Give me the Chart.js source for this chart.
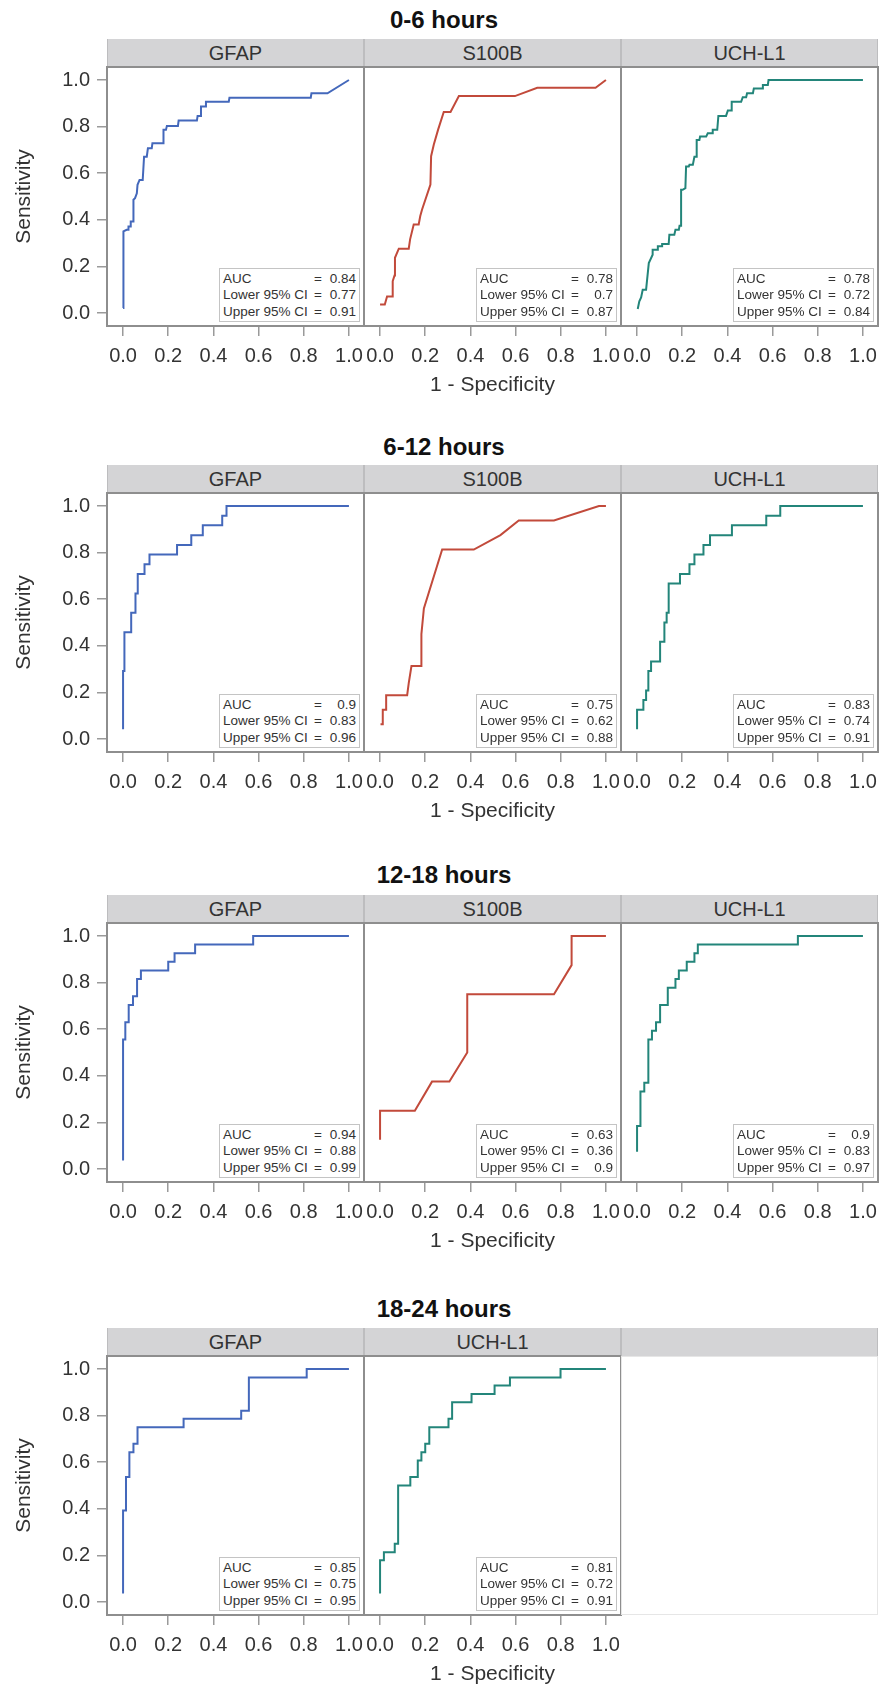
<!DOCTYPE html>
<html><head><meta charset="utf-8">
<script src="https://cdn.jsdelivr.net/npm/chart.js@4.4.0/dist/chart.umd.min.js"></script>
<style>
html,body{margin:0;padding:0;background:#fff;}
body{width:880px;height:1689px;position:relative;overflow:hidden;font-family:"Liberation Sans",Arial,sans-serif;}
.gtitle{position:absolute;left:0;width:888px;text-align:center;font-weight:bold;font-size:24px;line-height:28px;color:#111;}
.strip{position:absolute;height:28px;background:#d4d4d6;box-sizing:border-box;border-right:1px solid #bdbdbf;border-left:1px solid #bdbdbf;text-align:center;font-size:20px;line-height:29px;color:#333;}
canvas{position:absolute;}
.auc{position:absolute;width:141px;height:54px;box-sizing:border-box;border:1px solid #c4c4c4;background:#fff;z-index:5;font-size:13.5px;color:#333;padding-top:2px;}
.auc .row{position:relative;height:16.3px;line-height:16.3px;}
.auc .lab{position:absolute;left:3px;}
.auc .eq{position:absolute;left:93px;width:10px;text-align:center;}
.auc .val{position:absolute;right:3px;}
.empty{position:absolute;box-sizing:border-box;border:1px solid #e6e6e6;}
</style>
</head><body>
<script>
// ---------------- DATA ----------------
const groups = ['0-6 hours', '6-12 hours', '12-18 hours', '18-24 hours'];
const markers = [['GFAP', 'S100B', 'UCH-L1'], ['GFAP', 'S100B', 'UCH-L1'], ['GFAP', 'S100B', 'UCH-L1'], ['GFAP', 'UCH-L1']];
const xTickVals = [0, 0.2, 0.4, 0.6, 0.8, 1.0];
const yTickVals = [0, 0.2, 0.4, 0.6, 0.8, 1.0];

// AUC and 95% CI text per group / marker
const aucText   = [['0.84', '0.78', '0.78'], ['0.9', '0.75', '0.83'], ['0.94', '0.63', '0.9'], ['0.85', '0.81']];
const lowerText = [['0.77', '0.7', '0.72'], ['0.83', '0.62', '0.74'], ['0.88', '0.36', '0.83'], ['0.75', '0.72']];
const upperText = [['0.91', '0.87', '0.84'], ['0.96', '0.88', '0.91'], ['0.99', '0.9', '0.97'], ['0.95', '0.91']];

// ROC curve vertices (1 - specificity, sensitivity)
const fpr_0_6_GFAP = [0, 0, 0.001, 0.004, 0.016, 0.024, 0.024, 0.034, 0.034, 0.046, 0.046, 0.053, 0.061, 0.064, 0.073, 0.087, 0.093, 0.105, 0.11, 0.127, 0.13, 0.179, 0.179, 0.19, 0.194, 0.243, 0.246, 0.327, 0.33, 0.342, 0.345, 0.364, 0.367, 0.468, 0.471, 0.831, 0.834, 0.905, 1.0];
const tpr_0_6_GFAP = [0.021, 0.193, 0.2, 0.35, 0.357, 0.357, 0.371, 0.371, 0.393, 0.393, 0.486, 0.493, 0.514, 0.55, 0.571, 0.571, 0.671, 0.671, 0.707, 0.707, 0.729, 0.729, 0.786, 0.786, 0.803, 0.803, 0.826, 0.826, 0.846, 0.846, 0.886, 0.886, 0.907, 0.907, 0.924, 0.924, 0.943, 0.943, 1.0];

const fpr_0_6_S100B = [0, 0.021, 0.031, 0.053, 0.056, 0.064, 0.066, 0.083, 0.127, 0.133, 0.149, 0.171, 0.178, 0.186, 0.223, 0.226, 0.238, 0.257, 0.282, 0.312, 0.349, 0.597, 0.696, 0.954, 1.0];
const tpr_0_6_S100B = [0.036, 0.036, 0.071, 0.071, 0.137, 0.161, 0.237, 0.276, 0.276, 0.316, 0.38, 0.38, 0.416, 0.444, 0.551, 0.673, 0.723, 0.787, 0.863, 0.863, 0.931, 0.931, 0.967, 0.967, 1.0];

const fpr_0_6_UCHL1 = [0.003, 0.010, 0.018, 0.025, 0.04, 0.052, 0.069, 0.069, 0.092, 0.092, 0.111, 0.111, 0.14, 0.143, 0.165, 0.17, 0.185, 0.188, 0.195, 0.195, 0.202, 0.214, 0.217, 0.229, 0.232, 0.247, 0.254, 0.261, 0.264, 0.276, 0.279, 0.306, 0.313, 0.332, 0.335, 0.355, 0.36, 0.394, 0.402, 0.417, 0.419, 0.461, 0.468, 0.483, 0.487, 0.513, 0.517, 0.554, 0.557, 0.579, 0.582, 1.0];
const tpr_0_6_UCHL1 = [0.017, 0.05, 0.067, 0.1, 0.1, 0.214, 0.25, 0.271, 0.271, 0.286, 0.286, 0.296, 0.296, 0.336, 0.336, 0.357, 0.357, 0.374, 0.374, 0.529, 0.529, 0.536, 0.629, 0.629, 0.636, 0.636, 0.671, 0.671, 0.743, 0.743, 0.757, 0.757, 0.771, 0.771, 0.786, 0.786, 0.846, 0.846, 0.869, 0.869, 0.907, 0.907, 0.926, 0.926, 0.943, 0.943, 0.964, 0.964, 0.979, 0.979, 1.0, 1.0];

const fpr_6_12_GFAP = [0, 0, 0.006, 0.006, 0.036, 0.036, 0.055, 0.055, 0.065, 0.065, 0.095, 0.095, 0.117, 0.117, 0.239, 0.239, 0.302, 0.302, 0.353, 0.353, 0.439, 0.439, 0.458, 0.458, 1.0];
const tpr_6_12_GFAP = [0.042, 0.292, 0.292, 0.458, 0.458, 0.542, 0.542, 0.625, 0.625, 0.708, 0.708, 0.75, 0.75, 0.792, 0.792, 0.833, 0.833, 0.875, 0.875, 0.917, 0.917, 0.958, 0.958, 1.0, 1.0];

const fpr_6_12_S100B = [0.002, 0.012, 0.012, 0.027, 0.027, 0.12, 0.127, 0.139, 0.183, 0.183, 0.194, 0.275, 0.415, 0.533, 0.614, 0.77, 0.969, 1.0];
const tpr_6_12_S100B = [0.063, 0.063, 0.125, 0.125, 0.188, 0.188, 0.24, 0.313, 0.313, 0.45, 0.56, 0.813, 0.813, 0.875, 0.938, 0.938, 1.0, 1.0];

const fpr_6_12_UCHL1 = [0, 0, 0.028, 0.028, 0.04, 0.04, 0.05, 0.05, 0.062, 0.062, 0.102, 0.102, 0.121, 0.121, 0.131, 0.131, 0.14, 0.14, 0.19, 0.19, 0.232, 0.232, 0.254, 0.254, 0.294, 0.294, 0.323, 0.323, 0.42, 0.42, 0.572, 0.572, 0.634, 0.634, 1.0];
const tpr_6_12_UCHL1 = [0.042, 0.125, 0.125, 0.167, 0.167, 0.208, 0.208, 0.292, 0.292, 0.333, 0.333, 0.417, 0.417, 0.5, 0.5, 0.542, 0.542, 0.667, 0.667, 0.708, 0.708, 0.75, 0.75, 0.792, 0.792, 0.833, 0.833, 0.875, 0.875, 0.917, 0.917, 0.958, 0.958, 1.0, 1.0];

const fpr_12_18_GFAP = [0, 0, 0.01, 0.01, 0.025, 0.025, 0.044, 0.044, 0.062, 0.062, 0.079, 0.079, 0.2, 0.2, 0.228, 0.228, 0.319, 0.319, 0.576, 0.576, 1.0];
const tpr_12_18_GFAP = [0.037, 0.556, 0.556, 0.63, 0.63, 0.704, 0.704, 0.741, 0.741, 0.815, 0.815, 0.852, 0.852, 0.889, 0.889, 0.926, 0.926, 0.963, 0.963, 1.0, 1.0];

const fpr_12_18_S100B = [0, 0, 0.154, 0.23, 0.307, 0.386, 0.386, 0.77, 0.848, 0.848, 1.0];
const tpr_12_18_S100B = [0.125, 0.25, 0.25, 0.375, 0.375, 0.5, 0.75, 0.75, 0.875, 1.0, 1.0];

const fpr_12_18_UCHL1 = [0, 0, 0.015, 0.015, 0.032, 0.032, 0.05, 0.05, 0.066, 0.066, 0.084, 0.084, 0.102, 0.102, 0.136, 0.136, 0.17, 0.17, 0.185, 0.185, 0.22, 0.22, 0.254, 0.254, 0.269, 0.269, 0.712, 0.712, 1.0];
const tpr_12_18_UCHL1 = [0.074, 0.185, 0.185, 0.333, 0.333, 0.37, 0.37, 0.556, 0.556, 0.593, 0.593, 0.63, 0.63, 0.704, 0.704, 0.778, 0.778, 0.815, 0.815, 0.852, 0.852, 0.889, 0.889, 0.926, 0.926, 0.963, 0.963, 1.0, 1.0];

const fpr_18_24_GFAP = [0, 0, 0.013, 0.013, 0.028, 0.028, 0.046, 0.046, 0.064, 0.064, 0.268, 0.268, 0.523, 0.523, 0.557, 0.557, 0.813, 0.813, 1.0];
const tpr_18_24_GFAP = [0.036, 0.393, 0.393, 0.536, 0.536, 0.643, 0.643, 0.679, 0.679, 0.75, 0.75, 0.786, 0.786, 0.821, 0.821, 0.964, 0.964, 1.0, 1.0];

const fpr_18_24_UCHL1 = [0, 0, 0.017, 0.017, 0.065, 0.065, 0.08, 0.08, 0.134, 0.134, 0.167, 0.167, 0.183, 0.183, 0.2, 0.2, 0.218, 0.218, 0.303, 0.303, 0.319, 0.319, 0.405, 0.405, 0.507, 0.507, 0.575, 0.575, 0.799, 0.799, 1.0];
const tpr_18_24_UCHL1 = [0.036, 0.179, 0.179, 0.214, 0.214, 0.25, 0.25, 0.5, 0.5, 0.536, 0.536, 0.607, 0.607, 0.643, 0.643, 0.679, 0.679, 0.75, 0.75, 0.786, 0.786, 0.857, 0.857, 0.893, 0.893, 0.929, 0.929, 0.964, 0.964, 1.0, 1.0];

const curveFpr = [[fpr_0_6_GFAP, fpr_0_6_S100B, fpr_0_6_UCHL1], [fpr_6_12_GFAP, fpr_6_12_S100B, fpr_6_12_UCHL1], [fpr_12_18_GFAP, fpr_12_18_S100B, fpr_12_18_UCHL1], [fpr_18_24_GFAP, fpr_18_24_UCHL1]];
const curveTpr = [[tpr_0_6_GFAP, tpr_0_6_S100B, tpr_0_6_UCHL1], [tpr_6_12_GFAP, tpr_6_12_S100B, tpr_6_12_UCHL1], [tpr_12_18_GFAP, tpr_12_18_S100B, tpr_12_18_UCHL1], [tpr_18_24_GFAP, tpr_18_24_UCHL1]];

// ---------------- STYLE / LAYOUT ----------------
const markerColor = {'GFAP': '#4468bb', 'S100B': '#c24a3b', 'UCH-L1': '#23857a'};
const FONT = '"Liberation Sans", Arial, sans-serif';
const panelLefts = [107, 364, 621];
const PW = 257, PH = 259;
const plotTops = [67, 493, 923, 1356];
const titleCenters = [20, 447, 875, 1309];
const XMIN = -0.0711, XMAX = 1.0667;
const YMIN = -0.0558, YMAX = 1.0558;
const T = 24, R = 12, XH = 75, LPAD = 10;

const framePlugin = {
  id: 'frame',
  afterDraw(chart) {
    const {ctx, chartArea: a} = chart;
    ctx.save();
    ctx.strokeStyle = '#8e8e8e';
    ctx.lineWidth = 2;
    ctx.strokeRect(a.left, a.top, a.right - a.left, a.bottom - a.top);
    ctx.restore();
  }
};

function addDiv(cls, style, html) {
  const d = document.createElement('div');
  d.className = cls;
  Object.assign(d.style, style);
  if (html !== undefined) d.innerHTML = html;
  document.body.appendChild(d);
  return d;
}

function makePanel(g, c) {
  const left = panelLefts[c];
  const showY = c === 0;
  const showXTitle = c === 1;
  const L = showY ? left : LPAD;
  const cv = document.createElement('canvas');
  const W = L + PW + R, H = T + PH + XH;
  cv.width = W; cv.height = H;
  cv.style.width = W + 'px'; cv.style.height = H + 'px';
  cv.style.left = (left - L) + 'px';
  cv.style.top = (plotTops[g] - T) + 'px';
  document.body.appendChild(cv);
  const fpr = curveFpr[g][c], tpr = curveTpr[g][c];
  const color = markerColor[markers[g][c]];
  new Chart(cv.getContext('2d'), {
    type: 'scatter',
    data: {datasets: [{
      data: fpr.map((x, i) => ({x: x, y: tpr[i]})),
      showLine: true, borderColor: color, backgroundColor: color,
      borderWidth: 2, pointRadius: 0, tension: 0, fill: false
    }]},
    options: {
      responsive: false, animation: false, events: [],
      layout: {padding: {top: T, right: R, left: showY ? 0 : LPAD, bottom: 0}},
      plugins: {legend: {display: false}, tooltip: {enabled: false}},
      scales: {
        x: {
          type: 'linear', min: XMIN, max: XMAX,
          afterBuildTicks: s => { s.ticks = xTickVals.map(v => ({value: v})); },
          afterFit: s => { s.height = XH; },
          grid: {drawOnChartArea: false, drawTicks: true, tickLength: 10, color: '#9a9a9a', lineWidth: 1.5},
          border: {display: false},
          ticks: {padding: 8, color: '#333', font: {size: 20, family: FONT}, maxRotation: 0, autoSkip: false,
                  callback: v => Number(v).toFixed(1)},
          title: {display: showXTitle, text: '1 - Specificity', color: '#333',
                  font: {size: 21, family: FONT, lineHeight: 1.2}, padding: {top: 0, bottom: 3}}
        },
        y: {
          type: 'linear', display: showY, min: YMIN, max: YMAX,
          afterBuildTicks: s => { s.ticks = yTickVals.map(v => ({value: v})); },
          afterFit: s => { s.width = showY ? L : 0; },
          grid: {drawOnChartArea: false, drawTicks: true, tickLength: 10, color: '#9a9a9a', lineWidth: 1.5},
          border: {display: false},
          ticks: {padding: 7, color: '#333', font: {size: 20, family: FONT},
                  callback: v => Number(v).toFixed(1)},
          title: {display: showY, text: 'Sensitivity', color: '#333',
                  font: {size: 21, family: FONT, lineHeight: 1.2}, padding: {top: 12, bottom: 0}}
        }
      }
    },
    plugins: [framePlugin]
  });

  // AUC annotation box
  const box = addDiv('auc', {left: (left + PW - 4 - 141) + 'px', top: (plotTops[g] + PH - 4 - 54) + 'px'});
  const rows = [['AUC', aucText[g][c]], ['Lower 95% CI', lowerText[g][c]], ['Upper 95% CI', upperText[g][c]]];
  rows.forEach(r => {
    const row = document.createElement('div');
    row.className = 'row';
    row.innerHTML = '<span class="lab">' + r[0] + '</span><span class="eq">=</span><span class="val">' + r[1] + '</span>';
    box.appendChild(row);
  });
}

groups.forEach((gname, g) => {
  addDiv('gtitle', {top: (titleCenters[g] - 14) + 'px'}, gname);
  for (let c = 0; c < 3; c++) {
    const name = markers[g][c] || '';
    addDiv('strip', {left: panelLefts[c] + 'px', width: PW + 'px', top: (plotTops[g] - 28) + 'px'}, name);
    if (markers[g][c]) {
      makePanel(g, c);
    } else {
      addDiv('empty', {left: panelLefts[c] + 'px', width: PW + 'px', top: plotTops[g] + 'px', height: PH + 'px'});
    }
  }
});
</script>
</body></html>
